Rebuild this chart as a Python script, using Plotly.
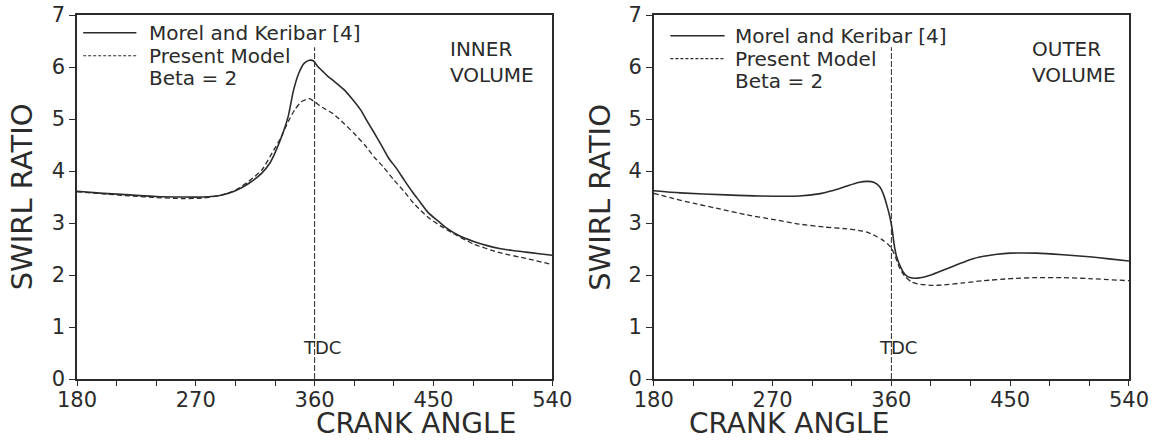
import plotly.graph_objects as go
from plotly.subplots import make_subplots

# ---- data ----
# inner volume
inner_angle_exp = [180, 200, 220, 240, 260, 275, 290, 300, 310, 320, 326, 330, 336, 340, 344,
                   348, 352, 356, 359, 362, 366, 370, 375, 382, 388, 395, 400, 405, 410, 416,
                   422, 428, 434, 440, 446, 453, 460, 470, 480, 490, 500, 510, 520, 530, 540]
inner_swirl_exp = [3.61, 3.57, 3.54, 3.51, 3.50, 3.50, 3.54, 3.62, 3.76, 3.96, 4.15, 4.35, 4.73, 5.05, 5.55,
                   5.88, 6.07, 6.13, 6.12, 6.02, 5.92, 5.82, 5.72, 5.57, 5.40, 5.17, 4.95, 4.74, 4.52, 4.25,
                   4.05, 3.82, 3.60, 3.40, 3.20, 3.05, 2.90, 2.75, 2.65, 2.57, 2.51, 2.47, 2.44, 2.41, 2.38]

inner_angle_mod = [180, 200, 220, 240, 260, 275, 290, 300, 310, 320, 329, 334, 340, 345, 350,
                   356, 360, 366, 374, 382, 390, 398, 405, 412, 420, 428, 435, 442, 448, 455,
                   465, 480, 500, 520, 540]
inner_swirl_mod = [3.60, 3.56, 3.52, 3.49, 3.47, 3.48, 3.54, 3.63, 3.80, 4.02, 4.40, 4.62, 4.95, 5.18, 5.33,
                   5.39, 5.33, 5.22, 5.10, 4.92, 4.72, 4.50, 4.27, 4.08, 3.83, 3.60, 3.38, 3.20, 3.07, 2.95,
                   2.80, 2.60, 2.43, 2.32, 2.20]

# outer volume
outer_angle_exp = [180, 200, 235, 260, 290, 305, 315, 325, 335, 342, 347, 351, 354, 357, 359,
                   360.5, 362, 364, 367, 370, 374, 380, 390, 400, 410, 420, 430, 440, 450, 470,
                   490, 510, 525, 540]
outer_swirl_exp = [3.62, 3.58, 3.54, 3.52, 3.52, 3.56, 3.62, 3.70, 3.78, 3.80, 3.78, 3.70, 3.55, 3.30, 3.10,
                   2.90, 2.60, 2.35, 2.15, 2.02, 1.95, 1.94, 2.00, 2.10, 2.20, 2.30, 2.36, 2.40, 2.42, 2.42,
                   2.39, 2.35, 2.31, 2.27]

outer_angle_mod = [180, 195, 210, 230, 250, 270, 290, 310, 325, 335, 342, 348, 353, 357, 360,
                   363, 366, 370, 375, 380, 390, 400, 415, 430, 450, 470, 490, 510, 540]
outer_swirl_mod = [3.57, 3.47, 3.38, 3.27, 3.16, 3.07, 2.98, 2.92, 2.89, 2.86, 2.82, 2.75, 2.68, 2.60, 2.52,
                   2.35, 2.15, 1.98, 1.87, 1.83, 1.80, 1.81, 1.85, 1.89, 1.93, 1.95, 1.95, 1.93, 1.89]

TDC_ANGLE = 360
TDC_TOP = 6.38
panel_labels = ["INNER<br>VOLUME", "OUTER<br>VOLUME"]
legend_names = ["Morel and Keribar [4]", "Present Model", "Beta = 2"]
x_ticks = [180, 270, 360, 450, 540]
y_ticks = [0, 1, 2, 3, 4, 5, 6, 7]

INK = "#2b2b2b"
FONT = "DejaVu Sans"

fig = make_subplots(rows=1, cols=2, horizontal_spacing=0.0965)

panels = [
    (inner_angle_exp, inner_swirl_exp, inner_angle_mod, inner_swirl_mod),
    (outer_angle_exp, outer_swirl_exp, outer_angle_mod, outer_swirl_mod),
]
label_x = [461, 465]

for i, (xa, ya, xb, yb) in enumerate(panels, start=1):
    fig.add_trace(go.Scatter(
        x=xa, y=ya, mode="lines", name=legend_names[0],
        line=dict(color=INK, width=1.6, shape="spline", smoothing=0.6),
        showlegend=False,
    ), row=1, col=i)
    fig.add_trace(go.Scatter(
        x=xb, y=yb, mode="lines", name=legend_names[1],
        line=dict(color=INK, width=1.3, dash="5px,3px", shape="spline", smoothing=0.6),
        showlegend=False,
    ), row=1, col=i)

    # TDC reference line
    fig.add_trace(go.Scatter(
        x=[TDC_ANGLE, TDC_ANGLE], y=[0, TDC_TOP], mode="lines",
        line=dict(color=INK, width=1, dash="6px,2px"),
        showlegend=False, hoverinfo="skip",
    ), row=1, col=i)
    fig.add_annotation(x=TDC_ANGLE, y=0.6, text="TDC", showarrow=False, xshift=7,
                       font=dict(size=18, color=INK, family=FONT), row=1, col=i)
    fig.add_annotation(x=label_x[i - 1], y=6.62, text=panel_labels[i - 1], showarrow=False,
                       xanchor="left", yanchor="top", align="left",
                       font=dict(size=20, color=INK, family=FONT), row=1, col=i)

    fig.update_xaxes(
        range=[180, 540], tickvals=x_ticks, ticks="outside", ticklen=5, tickwidth=1.2,
        tickcolor=INK, showline=True, linecolor=INK, linewidth=1.5, mirror=True,
        showgrid=False, zeroline=False, automargin=False, ticklabelstandoff=-4,
        minor=dict(dtick=30, tick0=180, ticks="outside", ticklen=5, tickcolor=INK),
        tickfont=dict(size=21, color=INK, family=FONT),
        row=1, col=i,
    )
    fig.update_yaxes(
        range=[0, 7], tickvals=y_ticks, ticks="outside", ticklen=6, tickwidth=1.2,
        tickcolor=INK, showline=True, linecolor=INK, linewidth=1.5, mirror=True,
        showgrid=False, zeroline=False, automargin=False,
        tickfont=dict(size=21, color=INK, family=FONT),
        row=1, col=i,
    )

# axis titles and hand-drawn legends, placed per panel
title_font = dict(size=29, color=INK, family=FONT)
legend_font = dict(size=20, color=INK, family=FONT)
panel_axes = [("x domain", "y domain", 0.013, 0.125, 0.147),
              ("x2 domain", "y2 domain", 0.035, 0.149, 0.166)]
panel_x_center = [0.225, 0.774]
panel_y_title_x = [-0.052, 0.497]

for k, (xr, yr, s0, s1, tx) in enumerate(panel_axes):
    fig.add_annotation(xref="paper", yref="paper", x=panel_x_center[k], y=-0.121,
                       text="CRANK ANGLE", showarrow=False, yanchor="middle",
                       font=dict(size=28, color=INK, family=FONT))
    fig.add_annotation(xref="paper", yref="paper", x=panel_y_title_x[k], y=0.5,
                       text="SWIRL RATIO", showarrow=False, textangle=-90,
                       xanchor="center", yanchor="middle", font=title_font)

    dy = 0.008 * k
    fig.add_shape(type="line", xref=xr, yref=yr, x0=s0, x1=s1, y0=0.951 - dy, y1=0.951 - dy,
                  line=dict(color=INK, width=1.5))
    fig.add_shape(type="line", xref=xr, yref=yr, x0=s0, x1=s1, y0=0.888 - dy, y1=0.888 - dy,
                  line=dict(color=INK, width=1.2, dash="3px,2px"))
    fig.add_annotation(xref=xr, yref=yr, x=tx, y=0.951 - dy, text=legend_names[0],
                       showarrow=False, xanchor="left", yanchor="middle", font=legend_font)
    fig.add_annotation(xref=xr, yref=yr, x=tx, y=0.888 - dy, text=legend_names[1],
                       showarrow=False, xanchor="left", yanchor="middle", font=legend_font)
    fig.add_annotation(xref=xr, yref=yr, x=tx, y=0.826 - dy, text=legend_names[2],
                       showarrow=False, xanchor="left", yanchor="middle", font=legend_font)

fig.update_layout(
    width=1163, height=441,
    margin=dict(l=77, r=34, t=15, b=62),
    paper_bgcolor="white", plot_bgcolor="white",
    font=dict(family=FONT, color=INK),
    showlegend=False,
)

# drop the browser's default 8px body margin so the figure sits at the page corner
fig.write_html("out.html", config={"displayModeBar": False},
               post_script="document.body.style.margin = '0';")
